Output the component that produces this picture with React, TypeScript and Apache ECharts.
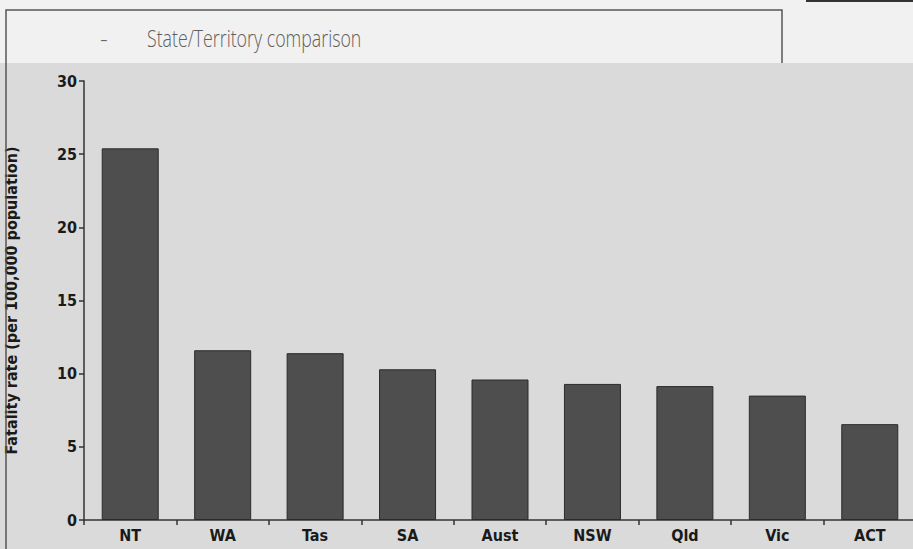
import React, { useEffect, useRef } from "react";
import * as echarts from "echarts";

const categories = ["NT", "WA", "Tas", "SA", "Aust", "NSW", "Qld", "Vic", "ACT"];
const fatalityRates = [25.4, 11.6, 11.4, 10.3, 9.6, 9.3, 9.15, 8.5, 6.55];
const yTicks = { min: 0, max: 30, interval: 5 };
const titleDash = "-";
const titleText = "State/Territory comparison";
const yAxisName = "Fatality rate (per 100,000 population)";

const labelFont = "'Liberation Sans Narrow', 'DejaVu Sans Condensed', 'Liberation Sans', sans-serif";

export default function App() {
  const ref = useRef<HTMLDivElement>(null);
  useEffect(() => {
    if (!ref.current) return;
    const chart = echarts.init(ref.current, null, { renderer: "svg" });
    chart.setOption({
      animation: false,
      backgroundColor: "#f1f1f1",
      graphic: [
        { type: "rect", z: -10, silent: true, shape: { x: 0, y: 63, width: 913, height: 486 }, style: { fill: "#dadada" } },
        { type: "polyline", z: 5, silent: true, shape: { points: [[6, 549], [6, 10], [782, 10], [782, 63]] }, style: { stroke: "#555", lineWidth: 1.5, fill: null } },
        { type: "rect", z: 5, silent: true, shape: { x: 806, y: 0, width: 107, height: 2 }, style: { fill: "#333" } },
        {
          type: "text", x: 100, y: 25, z: 5,
          style: { text: titleDash, font: "300 24px 'Open Sans', sans-serif", fill: "#666" },
        },
        {
          type: "text", x: 147, y: 25, z: 5, scaleX: 0.74,
          style: { text: titleText, font: "300 24px 'Open Sans', sans-serif", fill: "#5e5e5e" },
        },
      ],
      grid: { left: 84, right: -3, top: 81, bottom: 29, containLabel: false, outerBoundsMode: "none" },
      xAxis: {
        type: "category",
        data: categories,
        axisLine: { lineStyle: { color: "#333", width: 1.5 } },
        axisTick: { show: true, length: 5, lineStyle: { color: "#333", width: 1.5 } },
        axisLabel: { color: "#1a1a1a", fontSize: 16, fontWeight: "bold", fontFamily: labelFont, margin: 7 },
      },
      yAxis: {
        type: "value",
        min: yTicks.min,
        max: yTicks.max,
        interval: yTicks.interval,
        name: yAxisName,
        nameLocation: "middle",
        nameGap: 65,
        nameTextStyle: { color: "#1a1a1a", fontSize: 16, fontWeight: "bold", fontFamily: labelFont },
        axisLine: { show: true, lineStyle: { color: "#333", width: 1.5 } },
        axisTick: { show: true, length: 5, lineStyle: { color: "#333", width: 1.5 } },
        axisLabel: { color: "#1a1a1a", fontSize: 16, fontWeight: "bold", fontFamily: labelFont, margin: 7 },
        splitLine: { show: false },
      },
      series: [
        {
          type: "bar",
          data: fatalityRates,
          barWidth: 57,
          itemStyle: { color: "#4e4e4e", borderColor: "#2b2b2b", borderWidth: 1 },
        },
      ],
    });
    return () => chart.dispose();
  }, []);
  return <div ref={ref} style={{ position: "fixed", left: 0, top: 0, width: 913, height: 549 }} />;
}
